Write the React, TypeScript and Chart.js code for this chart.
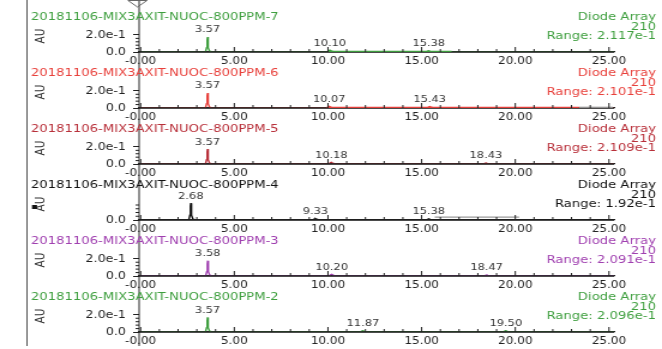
import React, { useEffect, useRef } from "react";
import { Chart, registerables } from "chart.js";
Chart.register(...registerables);

// ---------- layout constants ----------
const PAGE_W = 662;
const INT_W = 552;
const S = PAGE_W / INT_W; // horizontal stretch of the photographed printout
const CANVAS_H = 66;
const AXIS_Y = 52;
const PITCH = 56;
const FONT = '"DejaVu Sans", sans-serif';

// ---------- data ----------
const TITLES = [
  "20181106-MIX3AXIT-NUOC-800PPM-7",
  "20181106-MIX3AXIT-NUOC-800PPM-6",
  "20181106-MIX3AXIT-NUOC-800PPM-5",
  "20181106-MIX3AXIT-NUOC-800PPM-4",
  "20181106-MIX3AXIT-NUOC-800PPM-3",
  "20181106-MIX3AXIT-NUOC-800PPM-2",
];
const COLORS = ["#3f9f3f", "#e8413c", "#b8303a", "#111111", "#a040b0", "#3f9f3f"];
const DETECTOR = "Diode Array";
const WAVELENGTH = "210";
const RANGES = [0.2117, 0.2101, 0.2109, 0.192, 0.2091, 0.2096];
const RANGE_LABELS = [
  "Range: 2.117e-1",
  "Range: 2.101e-1",
  "Range: 2.109e-1",
  "Range: 1.92e-1",
  "Range: 2.091e-1",
  "Range: 2.096e-1",
];
const X_TICKS = [0, 5, 10, 15, 20, 25];
const X_TICK_LABELS = ["-0.00", "5.00", "10.00", "15.00", "20.00", "25.00"];
const Y_TICKS = [0, 0.2];
const Y_TICK_LABELS = ["0.0", "2.0e-1"];
const Y_UNIT = "AU";

const PEAK_TIMES = [
  [3.57, 10.1, 15.38],
  [3.57, 10.07, 15.43],
  [3.57, 10.18, 18.43],
  [2.68, 9.33, 15.38],
  [3.58, 10.2, 18.47],
  [3.57, 11.87, 19.5],
];
const PEAK_LABELS = [
  ["3.57", "10.10", "15.38"],
  ["3.57", "10.07", "15.43"],
  ["3.57", "10.18", "18.43"],
  ["2.68", "9.33", "15.38"],
  ["3.58", "10.20", "18.47"],
  ["3.57", "11.87", "19.50"],
];

const TRACE_PPM7 = [
  [-0.08, 0], [3.46, 0], [3.52, 0.05], [3.55, 0.14], [3.57, 0.177], [3.59, 0.14], [3.62, 0.05], [3.68, 0.01], [3.8, 0],
  [9.96, 0], [10.04, 0.015], [10.1, 0.022], [10.17, 0.012], [10.3, 0],
  [15.25, 0], [15.32, 0.01], [15.38, 0.015], [15.45, 0.008], [15.6, 0],
  [25.27, 0],
];
const TRACE_PPM6 = [
  [-0.08, 0], [3.46, 0], [3.52, 0.05], [3.55, 0.14], [3.57, 0.175], [3.59, 0.14], [3.62, 0.05], [3.68, 0.01], [3.8, 0],
  [9.93, 0], [10.01, 0.014], [10.07, 0.02], [10.14, 0.011], [10.27, 0],
  [15.3, 0], [15.37, 0.012], [15.43, 0.018], [15.5, 0.009], [15.65, 0],
  [25.27, 0],
];
const TRACE_PPM5 = [
  [-0.08, 0], [3.46, 0], [3.52, 0.05], [3.55, 0.14], [3.57, 0.175], [3.59, 0.14], [3.62, 0.05], [3.68, 0.01], [3.8, 0],
  [10.04, 0], [10.12, 0.014], [10.18, 0.02], [10.25, 0.011], [10.38, 0],
  [18.3, 0], [18.37, 0.008], [18.43, 0.012], [18.5, 0.006], [18.65, 0],
  [25.27, 0],
];
const TRACE_PPM4 = [
  [-0.08, 0], [2.57, 0], [2.63, 0.05], [2.66, 0.15], [2.68, 0.18], [2.7, 0.15], [2.73, 0.05], [2.79, 0.01], [2.9, 0],
  [9.2, 0], [9.27, 0.01], [9.33, 0.015], [9.4, 0.008], [9.53, 0],
  [15.25, 0], [15.32, 0.008], [15.38, 0.012], [15.45, 0.006], [15.6, 0],
  [25.27, 0],
];
const TRACE_PPM3 = [
  [-0.08, 0], [3.47, 0], [3.53, 0.05], [3.56, 0.14], [3.58, 0.178], [3.6, 0.14], [3.63, 0.05], [3.69, 0.01], [3.81, 0],
  [10.06, 0], [10.14, 0.014], [10.2, 0.02], [10.27, 0.011], [10.4, 0],
  [18.34, 0], [18.41, 0.008], [18.47, 0.012], [18.54, 0.006], [18.68, 0],
  [25.27, 0],
];
const TRACE_PPM2 = [
  [-0.08, 0], [3.46, 0], [3.52, 0.05], [3.55, 0.13], [3.57, 0.17], [3.59, 0.13], [3.62, 0.05], [3.68, 0.01], [3.8, 0],
  [11.73, 0], [11.8, 0.01], [11.87, 0.015], [11.94, 0.008], [12.08, 0],
  [19.36, 0], [19.43, 0.01], [19.5, 0.015], [19.57, 0.008], [19.72, 0],
  [25.27, 0],
];
const TRACES = [TRACE_PPM7, TRACE_PPM6, TRACE_PPM5, TRACE_PPM4, TRACE_PPM3, TRACE_PPM2];

// integration baselines: [start, end, level, useTraceColour]
const BASELINES_PPM7 = [[10.0, 16.6, 0.008, 1]];
const BASELINES_PPM6 = [[9.95, 23.4, 0.008, 1], [23.4, 25.2, 0.008, 0]];
const BASELINES_PPM5: number[][] = [];
const BASELINES_PPM4 = [[15.7, 20.2, 0.03, 0]];
const BASELINES_PPM3: number[][] = [];
const BASELINES_PPM2: number[][] = [];
const BASELINES = [BASELINES_PPM7, BASELINES_PPM6, BASELINES_PPM5, BASELINES_PPM4, BASELINES_PPM3, BASELINES_PPM2];

const X_MIN = -0.08;
const X_MAX = 25.27;

function line(ctx: CanvasRenderingContext2D, x1: number, y1: number, x2: number, y2: number) {
  ctx.beginPath();
  ctx.moveTo(x1, y1);
  ctx.lineTo(x2, y2);
  ctx.stroke();
}

function makePlugin(i: number) {
  return {
    id: "panelDecor" + i,
    afterDatasetDraw(chart: any, args: any) {
      // the x axis sits on top of the flat signal, as in the printout
      if (args.index !== 0) return;
      const ctx: CanvasRenderingContext2D = chart.ctx;
      const A = chart.scales.y.getPixelForValue(0);
      ctx.save();
      ctx.strokeStyle = "#222";
      ctx.lineWidth = 1.3;
      line(ctx, chart.chartArea.left, A, chart.chartArea.right, A);
      ctx.restore();
    },
    afterDraw(chart: any) {
      const ctx: CanvasRenderingContext2D = chart.ctx;
      const xs = chart.scales.x;
      const ys = chart.scales.y;
      const A = ys.getPixelForValue(0);
      const left = chart.chartArea.left;
      const color = COLORS[i];
      const bottom = i === 5 ? CANVAS_H : PITCH;
      ctx.save();
      ctx.lineWidth = 1;
      // left frame border
      ctx.strokeStyle = "#555";
      line(ctx, 27 / S, 0, 27 / S, bottom);
      // y axis line (continuous)
      ctx.strokeStyle = "#222";
      line(ctx, left, 0, left, bottom);
      // x ticks (upward)
      for (let t = 0; t <= 25; t += 1) {
        const x = xs.getPixelForValue(t);
        const len = t % 5 === 0 ? 5 : 3;
        line(ctx, x, A, x, A - len);
      }
      // y minor ticks
      for (let v = 0.04; v < RANGES[i] - 0.005; v += 0.04) {
        if (Math.abs(v - 0.2) < 0.01) continue;
        const y = ys.getPixelForValue(v);
        line(ctx, left - 3, y, left, y);
      }
      // title
      ctx.fillStyle = color;
      ctx.textBaseline = "middle";
      ctx.font = `11px ${FONT}`;
      ctx.textAlign = "left";
      ctx.fillText(TITLES[i], 31 / S, A - 34.5);
      // right info
      ctx.textAlign = "right";
      ctx.fillText(DETECTOR, 656 / S, A - 34.5);
      ctx.fillText(WAVELENGTH, 656 / S, A - 25);
      ctx.fillText(RANGE_LABELS[i], 656 / S, A - 15.7);
      // peak labels
      ctx.fillStyle = "#333";
      ctx.font = `9.5px ${FONT}`;
      ctx.textAlign = "center";
      const trace = TRACES[i];
      PEAK_TIMES[i].forEach((t, k) => {
        let h = 0;
        trace.forEach(([tx, ty]) => {
          if (Math.abs(tx - t) < 0.2 && ty > h) h = ty;
        });
        ctx.fillText(PEAK_LABELS[i][k], xs.getPixelForValue(t), ys.getPixelForValue(h) - 7);
      });
      // AU label (rotated)
      ctx.save();
      ctx.fillStyle = "#333";
      ctx.translate(41 / S, A - 16);
      ctx.rotate(-Math.PI / 2);
      ctx.font = `10.5px ${FONT}`;
      ctx.textAlign = "center";
      ctx.fillText(Y_UNIT, 0, 0);
      ctx.restore();
      // markers
      if (i === 0) {
        ctx.strokeStyle = "#666";
        ctx.beginPath();
        ctx.moveTo(128 / S, 0.5);
        ctx.lineTo(147 / S, 0.5);
        ctx.lineTo(137.5 / S, 7);
        ctx.closePath();
        ctx.stroke();
      }
      if (i === 3) {
        ctx.fillStyle = "#111";
        ctx.fillRect(32 / S, A - 15, 5 / S, 4);
      }
      ctx.restore();
    },
  };
}

function Panel({ index }: { index: number }) {
  const ref = useRef<HTMLCanvasElement | null>(null);
  useEffect(() => {
    if (!ref.current) return;
    const i = index;
    const baselineSets = BASELINES[i].map(([a, b, lvl, own]) => ({
      data: [
        { x: a, y: lvl },
        { x: b, y: lvl },
      ],
      borderColor: own ? COLORS[i] : "#9a9a9a",
      borderWidth: 1.3,
      pointRadius: 0,
      tension: 0,
      fill: false,
      order: 0,
    }));
    const chart = new Chart(ref.current, {
      type: "line",
      data: {
        datasets: [
          {
            data: TRACES[i].map(([x, y]) => ({ x, y })),
            borderColor: COLORS[i],
            borderWidth: 1.4,
            pointRadius: 0,
            tension: 0,
            fill: false,
            order: 1,
          },
          ...baselineSets,
        ],
      },
      options: {
        responsive: false,
        animation: false,
        devicePixelRatio: 1,
        events: [],
        layout: { padding: { top: AXIS_Y - 18, right: 40, left: 0, bottom: 0 } },
        plugins: { legend: { display: false }, tooltip: { enabled: false } },
        scales: {
          x: {
            type: "linear",
            min: X_MIN,
            max: X_MAX,
            afterBuildTicks: (scale: any) => {
              scale.ticks = X_TICKS.map((value) => ({ value }));
            },
            afterFit: (scale: any) => {
              scale.height = CANVAS_H - AXIS_Y;
            },
            ticks: {
              autoSkip: false,
              maxRotation: 0,
              padding: 3,
              color: "#222",
              font: { family: FONT, size: 10 },
              callback: (_v: any, idx: number) => X_TICK_LABELS[idx],
            },
            grid: { drawOnChartArea: false, drawTicks: false },
            border: { display: true, color: "#222", width: 1.3 },
          },
          y: {
            type: "linear",
            min: 0,
            max: RANGES[i],
            afterBuildTicks: (scale: any) => {
              scale.ticks = Y_TICKS.filter((v) => v <= RANGES[i]).map((value) => ({ value }));
            },
            afterFit: (scale: any) => {
              scale.width = 116;
            },
            ticks: {
              padding: 6,
              color: "#222",
              font: { family: FONT, size: 10.5 },
              callback: (v: any) => Y_TICK_LABELS[Y_TICKS.indexOf(v)],
            },
            grid: { drawOnChartArea: false, drawTicks: true, tickLength: 5, color: "#222" },
            border: { display: false },
          },
        },
      },
      plugins: [makePlugin(i)],
    } as any);
    return () => chart.destroy();
  }, [index]);
  return (
    <canvas
      ref={ref}
      width={INT_W}
      height={CANVAS_H}
      style={{
        position: "absolute",
        left: 0,
        top: index * PITCH,
        width: PAGE_W + "px",
        height: CANVAS_H + "px",
      }}
    />
  );
}

export default function App() {
  return (
    <div
      style={{
        position: "absolute",
        left: 0,
        top: 0,
        width: PAGE_W,
        height: 349,
        overflow: "hidden",
        background: "#fff",
      }}
    >
      {TITLES.map((_, i) => (
        <Panel key={i} index={i} />
      ))}
    </div>
  );
}
